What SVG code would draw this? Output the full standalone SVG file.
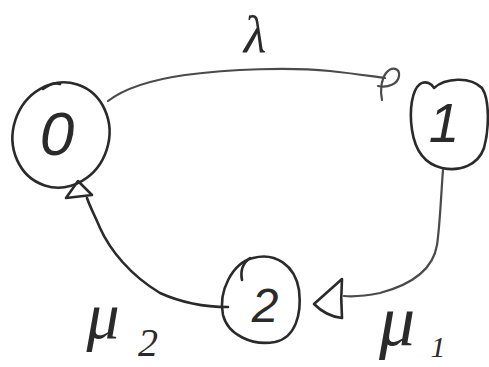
<svg xmlns="http://www.w3.org/2000/svg" width="489" height="367" viewBox="0 0 489 367">
<style>
.ink{fill:none;stroke:#2a2a2a;stroke-width:2.6;stroke-linecap:round;stroke-linejoin:round}
.line{fill:none;stroke:#4a4a4a;stroke-width:2.2;stroke-linecap:round;stroke-linejoin:round}
.txt{font-family:"Liberation Serif","DejaVu Serif",serif;font-style:italic;fill:#2a2a2a}
.dig{font-family:"Liberation Sans","DejaVu Sans",sans-serif;font-style:italic;fill:#2a2a2a}
</style>
<rect width="489" height="367" fill="#ffffff"/>
<g id="connectors">
  <path class="line" d="M108,101 C125,88 150,80 185,75 C230,69 290,67 330,71 C350,73 370,76 385,78"/>
  <path class="line" d="M382,100 C380,92 381,80 386,73 C392,66 400,68 399,76 C398,84 388,88 378,86"/>
  <path class="line" d="M443,170 C441,195 440,225 437,245 C433,270 410,285 380,293 C365,296 355,297 344,296"/>
  <path class="ink" d="M342,279 L314,304 C322,312 332,317 342,318 C341,305 341,292 342,279 Z"/>
  <path class="ink" d="M228,307 C205,307 180,302 160,293 C130,275 110,250 100,228 C95,216 90,207 87,198"/>
  <path class="ink" d="M66,198 L78,181 L92,195 Z"/>
</g>
<g id="node-0">
  <ellipse class="ink" cx="61" cy="135" rx="48" ry="53" transform="rotate(18 61 135)"/>
  <path class="ink" d="M43,89 C50,84 55,82 60,84"/>
  <text class="dig" x="57" y="155" font-size="62" text-anchor="middle">0</text>
</g>
<g id="node-1">
  <path class="ink" d="M434,88 C445,78 470,76 482,88 C490,100 489,130 484,148 C478,165 460,172 442,168 C425,164 415,150 412,130 C409,110 412,90 420,84 C426,80 432,84 434,88 Z"/>
  <text class="dig" x="444" y="142" font-size="55" text-anchor="middle">1</text>
</g>
<g id="node-2">
  <path class="ink" d="M253,258 C275,252 295,265 299,290 C302,315 295,338 275,342 C252,346 228,335 223,315 C218,292 232,263 253,258 Z"/>
  <path class="ink" d="M250,258 C243,263 240,270 242,280"/>
  <text class="dig" x="265" y="322" font-size="48" text-anchor="middle">2</text>
</g>
<g id="labels">
  <text class="txt" x="255" y="52" font-size="52" text-anchor="middle">λ</text>
  <text class="txt" x="103" y="338" font-size="66" text-anchor="middle">μ</text>
  <text class="txt" x="148" y="356" font-size="40" text-anchor="middle">2</text>
  <text class="txt" x="397" y="345" font-size="72" text-anchor="middle">μ</text>
  <text class="txt" x="438" y="357" font-size="30" text-anchor="middle">1</text>
</g>
</svg>
